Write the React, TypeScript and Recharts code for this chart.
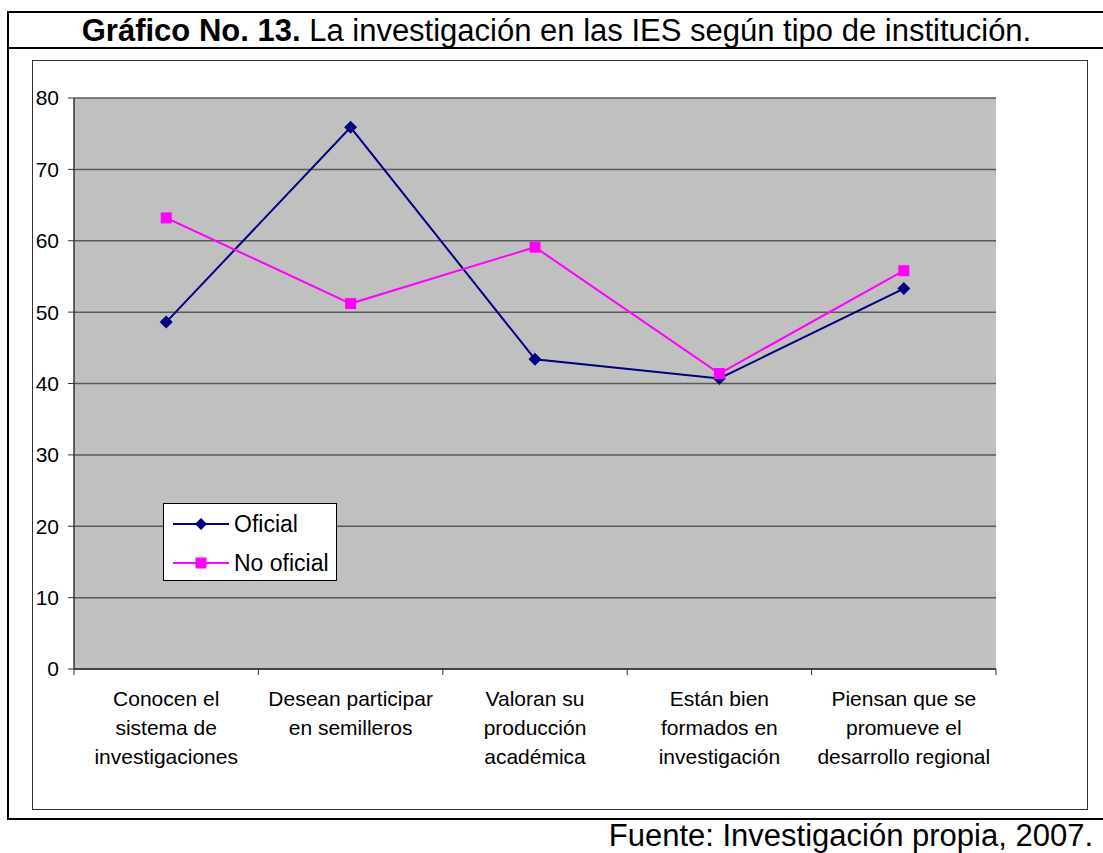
import React from 'react';
import { LineChart, Line, XAxis, YAxis, CartesianGrid, Legend } from 'recharts';

// values (percentages)
const categories = [
  'Conocen el\nsistema de\ninvestigaciones',
  'Desean participar\nen semilleros',
  'Valoran su\nproducción\nacadémica',
  'Están bien\nformados en\ninvestigación',
  'Piensan que se\npromueve el\ndesarrollo regional',
];
const oficial = [48.6, 75.9, 43.4, 40.7, 53.3];
const noOficial = [63.2, 51.2, 59.1, 41.4, 55.8];
const yTicks = [0, 10, 20, 30, 40, 50, 60, 70, 80];
const seriesOrder = ['Oficial', 'No oficial'];

// categories sit in the middle of each slot, tick marks on the slot edges
const data = categories.map((name, i) => ({ pos: i + 0.5, name, oficial: oficial[i], noOficial: noOficial[i] }));
const xTicks = [...categories.map((_, i) => i), categories.length, ...categories.map((_, i) => i + 0.5)].sort((a, b) => a - b);

const FONT = '"Liberation Sans", Arial, sans-serif';
const NAVY = '#000080';
const MAGENTA = '#FF00FF';

const Diamond = (props: any) => {
  const { cx, cy, fill } = props;
  if (cx == null || cy == null) return null;
  return <polygon points={`${cx},${cy - 6.5} ${cx + 6.5},${cy} ${cx},${cy + 6.5} ${cx - 6.5},${cy}`} fill={fill} />;
};

const Square = (props: any) => {
  const { cx, cy, fill } = props;
  if (cx == null || cy == null) return null;
  return <rect x={cx - 5.5} y={cy - 5.5} width={11} height={11} fill={fill} />;
};

const XTick = (props: any) => {
  const { x, y, payload } = props;
  const v = Number(payload.value);
  if (Number.isInteger(v)) {
    return <line x1={x} y1={y} x2={x} y2={y + 6} stroke="#333" strokeWidth={1} />;
  }
  const lines = categories[Math.floor(v)].split('\n');
  return (
    <text x={x} y={y} textAnchor="middle" fontFamily={FONT} fontSize={21} fill="#000">
      {lines.map((l, i) => (
        <tspan key={i} x={x} dy={i === 0 ? 37 : 29}>{l}</tspan>
      ))}
    </text>
  );
};

const LegendBox = (props: any) => {
  const items = [...(props.payload || [])].sort(
    (a: any, b: any) => seriesOrder.indexOf(a.value) - seriesOrder.indexOf(b.value)
  );
  return (
    <div style={{ width: 174, height: 78, boxSizing: 'border-box', border: '1px solid #000', background: '#fff', position: 'relative' }}>
      {items.map((it: any, i: number) => (
        <div key={i} style={{ position: 'absolute', left: 9, top: 7 + i * 39, height: 26, display: 'flex', alignItems: 'center' }}>
          <svg width={56} height={14}>
            <line x1={0} y1={7} x2={56} y2={7} stroke={it.color} strokeWidth={2} />
            {it.type === 'diamond'
              ? <polygon points="28,1 34,7 28,13 22,7" fill={it.color} />
              : <rect x={22.5} y={1.5} width={11} height={11} fill={it.color} />}
          </svg>
          <span style={{ fontFamily: FONT, fontSize: 23, marginLeft: 5, color: '#000' }}>{it.value}</span>
        </div>
      ))}
    </div>
  );
};

export default function App() {
  return (
    <div style={{ position: 'absolute', left: 0, top: 0, width: 1103, height: 853, overflow: 'hidden', background: '#fff' }}>
      <div style={{ position: 'absolute', left: 7, top: 11, width: 1110, height: 809, boxSizing: 'border-box', border: '2px solid #000' }} />
      <div style={{ position: 'absolute', left: 7, top: 47, width: 1110, height: 2, background: '#000' }} />
      <div style={{ position: 'absolute', left: 8, top: 13, width: 1097, lineHeight: '36px', textAlign: 'center', fontFamily: FONT, fontSize: 31, color: '#000', whiteSpace: 'nowrap' }}>
        <b>Gráfico No. 13.</b> La investigación en las IES según tipo de institución.
      </div>
      <div style={{ position: 'absolute', right: 10, top: 818, lineHeight: '36px', fontFamily: FONT, fontSize: 31, color: '#000', whiteSpace: 'nowrap' }}>
        Fuente: Investigación propia, 2007.
      </div>
      <div style={{ position: 'absolute', left: 32, top: 60, width: 1056, height: 750, boxSizing: 'border-box', border: '1px solid #333' }} />
      <div style={{ position: 'absolute', left: 32, top: 60 }}>
        <LineChart width={1055} height={749} data={data} margin={{ top: 38, right: 91, bottom: 40, left: 0 }}>
          <CartesianGrid
            vertical={false}
            fill="#C0C0C0"
            fillOpacity={1}
            stroke="#5a5a5a"
            strokeWidth={1.5}
          />
          <XAxis
            dataKey="pos"
            type="number"
            domain={[0, categories.length]}
            ticks={xTicks}
            interval={0}
            allowDataOverflow
            height={100}
            tickSize={0}
            tickMargin={0}
            tickLine={false}
            axisLine={{ stroke: '#333', strokeWidth: 1.5 }}
            tick={<XTick />}
          />
          <YAxis
            width={42}
            domain={[0, 80]}
            ticks={yTicks}
            interval={0}
            tickSize={6}
            tickMargin={9}
            axisLine={{ stroke: '#333', strokeWidth: 1.5 }}
            tickLine={{ stroke: '#333' }}
            tick={{ fontFamily: FONT, fontSize: 21, fill: '#000' }}
          />
          <Legend
            layout="horizontal"
            align="center"
            verticalAlign="middle"
            content={<LegendBox />}
            wrapperStyle={{ position: 'absolute', left: 131, top: 443, width: 174, height: 78 }}
          />
          <Line
            dataKey="oficial"
            name="Oficial"
            stroke={NAVY}
            fill={NAVY}
            strokeWidth={2}
            legendType="diamond"
            dot={<Diamond />}
            activeDot={false}
            isAnimationActive={false}
          />
          <Line
            dataKey="noOficial"
            name="No oficial"
            stroke={MAGENTA}
            fill={MAGENTA}
            strokeWidth={2}
            legendType="square"
            dot={<Square />}
            activeDot={false}
            isAnimationActive={false}
          />
        </LineChart>
      </div>
    </div>
  );
}
